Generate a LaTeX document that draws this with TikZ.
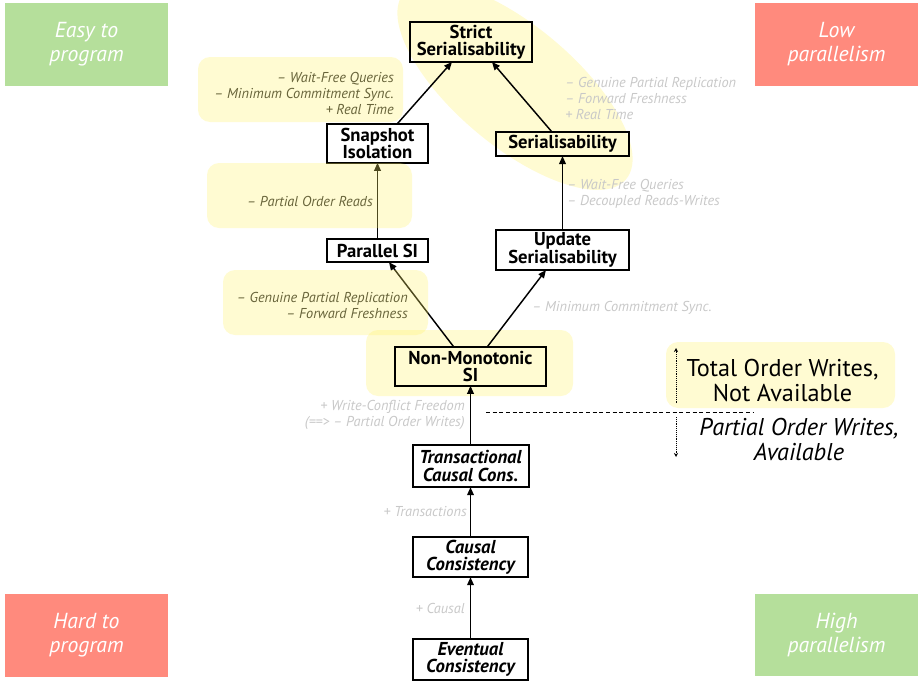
\documentclass[tikz,border=0pt]{standalone}
\usepackage{fontspec}
\setmainfont{PT Sans}
\usetikzlibrary{positioning,arrows.meta}
\definecolor{easygreen}{RGB}{181,223,155}
\definecolor{hardred}{RGB}{255,138,125}
\definecolor{spotyellow}{RGB}{255,251,210}
\definecolor{glazeyellow}{RGB}{255,242,105}
\definecolor{dimgray}{RGB}{200,200,200}
\tikzset{
level/.style={
draw,
line width=1.5pt,
inner sep=0pt,
outer sep=0pt,
align=center,
font=\fontsize{14}{13}\selectfont\bfseries
},
weak/.style={
level,
font=\fontsize{14}{13}\selectfont\bfseries\itshape
},
arrow/.style={
-{Triangle[length=6pt,width=5pt]},
line width=1.1pt
},
note/.style={
inner sep=0pt,
font=\fontsize{10.75}{12}\selectfont\itshape,
text=black!85
},
dimnote/.style={
note,
text=dimgray
},
corner/.style={
minimum width=122pt,
minimum height=62pt,
inner sep=0pt,
align=center,
text=white,
font=\fontsize{16.3}{18}\selectfont\itshape
},
spot/.style={
fill=spotyellow,
rounded corners=9pt
},
glaze/.style={
fill=glazeyellow,
fill opacity=0.3,
rounded corners=9pt
},
marker/.style={
densely dotted,
thin,
-{Stealth[length=3pt,width=3pt]}
}
}
\begin{document}
\begin{tikzpicture}[x=0.75pt,y=-0.75pt]
\useasboundingbox (0,0) rectangle (922,682);

% highlighted areas behind the levels
\fill[spotyellow,rotate around={-40:(515,86)}] (515,86) ellipse [x radius=145,y radius=60];
\fill[spot] (366,330) rectangle (573,396);
\fill[spot] (666,342) rectangle (895,408);

% corners
\node[corner,fill=easygreen](easy) at (86.5,44.5){Easy to\\program};
\node[corner,fill=hardred](low) at (836.5,44.5){Low\\parallelism};
\node[corner,fill=hardred](hard) at (86.5,635.5){Hard to\\program};
\node[corner,fill=easygreen](high) at (836.5,635){High\\parallelism};

% consistency levels
\node[weak,minimum width=86pt,minimum height=30.5pt](eventual) at (470.5,659.5){Eventual\\Consistency};
\node[weak,minimum width=86pt,minimum height=30pt,above=46.5pt of eventual](causal){Causal\\Consistency};
\node[weak,minimum width=87pt,minimum height=32pt,above=37.5pt of causal](tcc){Transactional\\Causal Cons.};
\node[level,minimum width=113pt,minimum height=29pt,above=44pt of tcc](nonmono){Non-Monotonic\\SI};
\node[level,minimum width=76pt,minimum height=17.5pt](parsi) at (377.5,250.5){Parallel SI};
\node[level,minimum width=76pt,minimum height=29pt,above=57pt of parsi](snapshot){Snapshot\\Isolation};
\node[level,minimum width=100pt,minimum height=30pt](updser) at (562.5,250){Update\\Serialisability};
\node[level,minimum width=100pt,minimum height=18pt,above=55.5pt of updser](ser){Serialisability};
\node[level,minimum width=92pt,minimum height=30pt](strict) at (471,42){Strict\\Serialisability};

\foreach \x/\y in {eventual/causal,causal/tcc,tcc/nonmono,parsi/snapshot,updser/ser}
\draw[arrow](\x)--(\y);
\draw[arrow]([xshift=14.6pt]snapshot.north)--([xshift=-14.25pt]strict.south);
\draw[arrow]([xshift=-7.9pt]ser.north)--([xshift=15.75pt]strict.south);
\draw[arrow]([xshift=-12.4pt]nonmono.north)--([xshift=8.6pt]parsi.south);
\draw[arrow]([xshift=12.4pt]nonmono.north)--([xshift=-12.4pt]updser.south);

% what each step adds or drops
\node[note,anchor=east,align=right](sistrict) at (394,93.5){-- Wait-Free Queries\\-- Minimum Commitment Sync.\\+ Real Time};
\node[dimnote,anchor=west,align=left](serstrict) at (565,98.5){-- Genuine Partial Replication\\-- Forward Freshness\\+ Real Time};
\node[note,anchor=east](parsisi) at (373,201){-- Partial Order Reads};
\node[dimnote,anchor=west,align=left](updserser) at (567,193.5){-- Wait-Free Queries\\-- Decoupled Reads-Writes};
\node[note,anchor=east,align=right](nmparsi) at (408,305){-- Genuine Partial Replication\\-- Forward Freshness};
\node[dimnote,anchor=west](nmupd) at (532,308){-- Minimum Commitment Sync.};
\node[dimnote,anchor=east,align=right](tccnm) at (465,414.5){+ Write-Conflict Freedom\\(==> -- Partial Order Writes)};
\node[dimnote,anchor=east](cctcc) at (467,512){+ Transactions};
\node[dimnote,anchor=east](eccc) at (465,608){+ Causal};

% write order split
\node[align=center,font=\fontsize{18.2}{18.75}\selectfont](total) at (782.5,380.5){Total Order Writes,\\Not Available};
\node[align=center,font=\fontsize{18.2}{18.75}\selectfont\itshape](partial) at (799,439.5){Partial Order Writes,\\Available};
\coordinate(cutl) at (486,412);
\coordinate(cutr) at (753,412);
\draw[densely dashed,thin](cutl)--(cutr);
\coordinate(upbot) at (676,403);
\coordinate(uptop) at (676,348);
\coordinate(downtop) at (676,417);
\coordinate(downbot) at (676,457);
\draw[marker](upbot)--(uptop);
\draw[marker](downtop)--(downbot);

% highlighted areas over the levels
\fill[glaze] (198,57) rectangle (403,122);
\fill[glaze] (207,163) rectangle (412,228);
\fill[glaze] (223,270) rectangle (428,335);

\end{tikzpicture}
\end{document}
